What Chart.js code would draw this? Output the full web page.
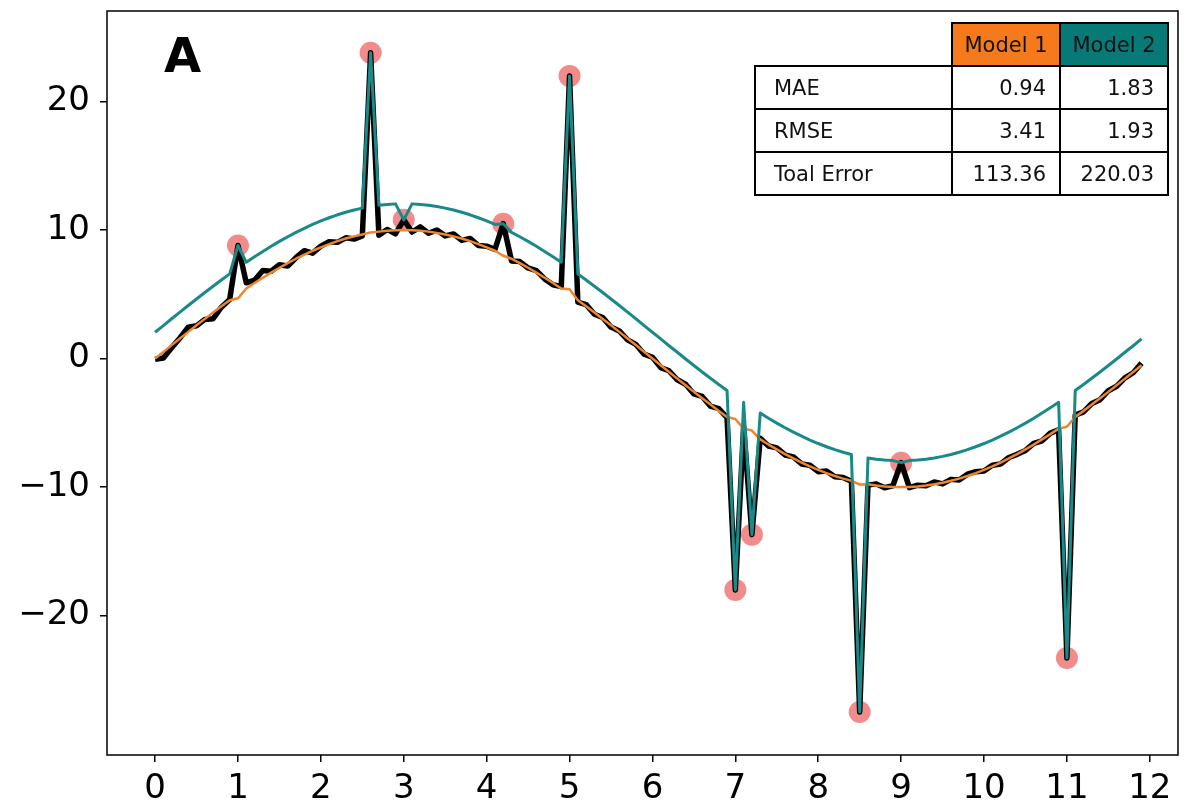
<!DOCTYPE html>
<html>
<head>
<meta charset="utf-8">
<title>Model comparison with outliers</title>
<script src="https://cdn.jsdelivr.net/npm/chart.js"></script>
<style>
  body { margin: 0; background: #fff; }
  #wrap { position: relative; width: 1196px; height: 804px; }
  #panel {
    position: absolute; left: 164px; top: 31px;
    font: bold 48px "DejaVu Sans", sans-serif; line-height: 1; color: #000;
  }
  #stats {
    position: absolute; left: 754px; top: 22px;
    border-collapse: collapse;
    font: 21px "DejaVu Sans", sans-serif; color: #111;
    background: transparent;
  }
  #stats td { border: 2px solid #000; padding: 0; height: 41px; background: #fff; }
  #stats td.lab { width: 177px; text-align: left; padding-left: 18px; }
  #stats td.num { width: 93px; text-align: right; padding-right: 13px; }
  #stats td.blank { border: none; background: transparent; }
  #stats td.h1 { background: #f57a1c; text-align: center; }
  #stats td.h2 { background: #077a78; text-align: center; }
</style>
</head>
<body>

<div id="wrap">
  <canvas id="fit_chart" width="1196" height="804"></canvas>
  <div id="panel">A</div>
  <table id="stats"></table>
</div>

<script>
// x positions (step 0.1)
const xVals = [0,0.1,0.2,0.3,0.4,0.5,0.6,0.7,0.8,0.9,1,1.1,1.2,1.3,1.4,1.5,1.6,1.7,1.8,1.9,
  2,2.1,2.2,2.3,2.4,2.5,2.6,2.7,2.8,2.9,3,3.1,3.2,3.3,3.4,3.5,3.6,3.7,3.8,3.9,
  4,4.1,4.2,4.3,4.4,4.5,4.6,4.7,4.8,4.9,5,5.1,5.2,5.3,5.4,5.5,5.6,5.7,5.8,5.9,
  6,6.1,6.2,6.3,6.4,6.5,6.6,6.7,6.8,6.9,7,7.1,7.2,7.3,7.4,7.5,7.6,7.7,7.8,7.9,
  8,8.1,8.2,8.3,8.4,8.5,8.6,8.7,8.8,8.9,9,9.1,9.2,9.3,9.4,9.5,9.6,9.7,9.8,9.9,
  10,10.1,10.2,10.3,10.4,10.5,10.6,10.7,10.8,10.9,11,11.1,11.2,11.3,11.4,11.5,11.6,11.7,11.8,11.9];

// observed data (black)
const observed = [-0.05,0.05,0.85,1.6,2.45,2.55,3.05,3.1,4.0,4.6,8.8,5.9,6.1,6.85,6.8,7.3,7.2,7.85,8.4,8.2,
  8.75,9.1,9.05,9.4,9.3,9.55,23.8,9.6,10.05,9.7,10.8,9.85,10.25,9.75,10.0,9.55,9.7,9.2,9.35,8.8,
  8.75,8.5,10.5,7.6,7.55,7.05,6.85,6.2,5.75,5.6,22.0,4.4,4.2,3.45,3.2,2.45,2.15,1.45,1.1,0.35,
  0.1,-0.7,-0.95,-1.65,-2.0,-2.75,-2.95,-3.7,-3.9,-4.6,-18.0,-5.3,-13.7,-6.2,-6.8,-6.95,-7.5,-7.65,-8.2,-8.3,
  -8.8,-8.75,-9.2,-9.25,-9.55,-27.5,-9.85,-9.75,-10.05,-9.9,-8.1,-10.05,-9.85,-9.9,-9.6,-9.75,-9.4,-9.45,-9.0,-8.8,
  -8.75,-8.3,-8.2,-7.7,-7.45,-7.15,-6.6,-6.4,-5.8,-5.55,-23.3,-4.4,-4.15,-3.5,-3.2,-2.5,-2.15,-1.5,-1.1,-0.35];

// Model 1 prediction (orange)
const model1 = [0,0.52,1.05,1.56,2.08,2.59,3.09,3.58,4.07,4.54,4.7,5.45,5.88,6.29,6.69,7.07,7.43,7.77,8.09,8.39,
  8.66,8.91,9.14,9.34,9.51,9.66,9.82,9.88,9.95,9.99,10.0,9.99,9.95,9.88,9.78,9.66,9.51,9.34,9.14,8.91,
  8.66,8.39,8.0,7.77,7.43,7.07,6.69,6.29,5.88,5.45,5.4,4.54,4.07,3.58,3.09,2.59,2.08,1.56,1.05,0.52,
  0,-0.52,-1.05,-1.56,-2.08,-2.59,-3.09,-3.58,-4.07,-4.54,-4.7,-5.45,-5.6,-6.29,-6.69,-7.07,-7.43,-7.77,-8.09,-8.39,
  -8.66,-8.91,-9.14,-9.34,-9.51,-9.8,-9.78,-9.88,-9.95,-9.99,-10.0,-9.99,-9.95,-9.88,-9.78,-9.66,-9.51,-9.34,-9.14,-8.91,
  -8.66,-8.39,-8.09,-7.77,-7.43,-7.07,-6.69,-6.29,-5.88,-5.45,-5.3,-4.54,-4.07,-3.58,-3.09,-2.59,-2.08,-1.56,-1.05,-0.52];

// Model 2 prediction (teal)
const model2 = [2.05,2.57,3.1,3.61,4.13,4.64,5.14,5.63,6.12,6.59,8.8,7.5,7.93,8.34,8.74,9.12,9.48,9.82,10.14,10.44,
  10.71,10.96,11.19,11.39,11.56,11.71,23.8,11.93,12.0,12.04,10.8,12.04,12.0,11.93,11.83,11.71,11.56,11.39,11.19,10.96,
  10.71,10.44,10.5,9.82,9.48,9.12,8.74,8.34,7.93,7.5,22.0,6.59,6.12,5.63,5.14,4.64,4.13,3.61,3.1,2.57,
  2.05,1.53,1.0,0.49,-0.03,-0.54,-1.04,-1.53,-2.02,-2.49,-18.0,-3.4,-13.7,-4.24,-4.64,-5.02,-5.38,-5.72,-6.04,-6.34,
  -6.61,-6.86,-7.09,-7.29,-7.46,-27.5,-7.73,-7.83,-7.9,-7.94,-8.1,-7.94,-7.9,-7.83,-7.73,-7.61,-7.46,-7.29,-7.09,-6.86,
  -6.61,-6.34,-6.04,-5.72,-5.38,-5.02,-4.64,-4.24,-3.83,-3.4,-23.3,-2.49,-2.02,-1.53,-1.04,-0.54,-0.03,0.49,1.0,1.53];

// outliers (red circles)
const outlierX = [1.0, 2.6, 3.0, 4.2, 5.0, 7.0, 7.2, 8.5, 9.0, 11.0];
const outlierY = [8.8, 23.8, 10.8, 10.5, 22.0, -18.0, -13.7, -27.5, -8.1, -23.3];

const xTicks = [0,1,2,3,4,5,6,7,8,9,10,11,12];
const yTicks = [-20,-10,0,10,20];

// error table
const metricNames = ['MAE', 'RMSE', 'Toal Error'];
const model1Err = ['0.94', '3.41', '113.36'];
const model2Err = ['1.83', '1.93', '220.03'];

function pts(ys) {
    return xVals.map((x, i) => ({ x: x, y: ys[i] }));
}

// fill the table
const tbl = document.getElementById('stats');
let html = '<tr><td class="blank"></td><td class="num h1" style="padding:0">Model 1</td><td class="num h2" style="padding:0">Model 2</td></tr>';
metricNames.forEach((m, i) => {
    html += '<tr><td class="lab">' + m + '</td><td class="num">' + model1Err[i] + '</td><td class="num">' + model2Err[i] + '</td></tr>';
});
tbl.innerHTML = html;

const boxPlugin = {
    id: 'box',
    afterDraw(chart) {
        const a = chart.chartArea, ctx = chart.ctx;
        ctx.save();
        ctx.strokeStyle = '#000';
        ctx.lineWidth = 1.5;
        ctx.strokeRect(a.left, a.top, a.right - a.left, a.bottom - a.top);
        ctx.restore();
    }
};

const tickFont = { family: 'DejaVu Sans', size: 34 };

new Chart(document.getElementById('fit_chart').getContext('2d'), {
    type: 'line',
    data: {
        datasets: [{
            label: 'Model 2',
            data: pts(model2),
            borderColor: '#1a8a88',
            borderWidth: 3,
            pointRadius: 0,
            borderJoinStyle: 'round',
            order: 0
        }, {
            label: 'Model 1',
            data: pts(model1),
            borderColor: '#f0852e',
            borderWidth: 2.5,
            pointRadius: 0,
            borderJoinStyle: 'round',
            order: 1
        }, {
            label: 'Data',
            data: pts(observed),
            borderColor: '#000',
            borderWidth: 5.5,
            pointRadius: 0,
            borderJoinStyle: 'round',
            order: 2
        }, {
            type: 'scatter',
            label: 'Outliers',
            data: outlierX.map((x, i) => ({ x: x, y: outlierY[i] })),
            backgroundColor: 'rgba(238,100,100,0.75)',
            borderWidth: 0,
            pointRadius: 11,
            order: 3
        }]
    },
    options: {
        responsive: false,
        animation: false,
        devicePixelRatio: 1,
        layout: { padding: { top: 8, right: 18, left: 0, bottom: 0 } },
        scales: {
            x: {
                type: 'linear',
                min: -0.58,
                max: 12.34,
                afterBuildTicks: s => { s.ticks = xTicks.map(v => ({ value: v })); },
                afterFit: s => { s.height = 49; s.paddingLeft = 0; s.paddingRight = 0; },
                border: { display: false },
                grid: { drawOnChartArea: false, tickLength: 7, color: '#000', lineWidth: 1.5 },
                ticks: { font: tickFont, color: '#000', padding: 7, maxRotation: 0 }
            },
            y: {
                min: -30.85,
                max: 27.05,
                afterBuildTicks: s => { s.ticks = yTicks.map(v => ({ value: v })); },
                afterFit: s => { s.width = 107; s.paddingTop = 0; s.paddingBottom = 0; },
                border: { display: false },
                grid: { drawOnChartArea: false, tickLength: 7, color: '#000', lineWidth: 1.5 },
                ticks: {
                    font: tickFont, color: '#000', padding: 10,
                    callback: v => String(v).replace('-', '\u2212')
                }
            }
        },
        plugins: {
            legend: { display: false },
            tooltip: { enabled: false }
        }
    },
    plugins: [boxPlugin]
});
</script>

</body>
</html>
